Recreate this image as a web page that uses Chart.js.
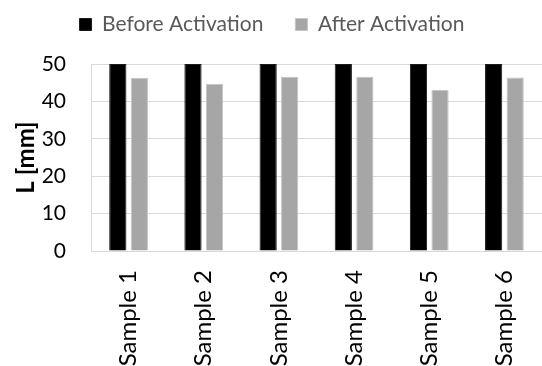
<!DOCTYPE html>
<html>
<head>
<meta charset="utf-8">
<script src="https://cdn.jsdelivr.net/npm/chart.js@4.4.1/dist/chart.umd.min.js"></script>
<style>
html,body{margin:0;padding:0;background:#fff;}
#wrap{width:542px;height:366px;position:relative;overflow:hidden;}
</style>
</head>
<body>
<div id="wrap"><canvas id="c" width="542" height="366"></canvas></div>
<script>
const categories = ["Sample 1","Sample 2","Sample 3","Sample 4","Sample 5","Sample 6"];
const seriesNames = ["Before Activation","After Activation"];
const beforeValues = [50, 50, 50, 50, 50, 50];
const afterValues = [46.3, 44.7, 46.6, 46.6, 43.1, 46.4];
const yTicks = [0, 10, 20, 30, 40, 50];

const FONT = "Lato, 'Open Sans', sans-serif";
const LEGEND_TOP = -18;
const PLOT_TOP = 64;

const legendFix = {
  id: 'legendFix',
  beforeLayout(chart) {
    const lg = chart.legend;
    if (lg && !lg._patched) {
      const origFit = lg.fit;
      lg.fit = function () { origFit.call(this); this.height = PLOT_TOP - LEGEND_TOP; };
      lg._patched = true;
    }
  }
};

new Chart(document.getElementById('c'), {
  type: 'bar',
  data: {
    labels: categories,
    datasets: [
      { label: seriesNames[0], data: beforeValues, backgroundColor: '#000000', borderColor: '#1a1a1a', borderWidth: 1 },
      { label: seriesNames[1], data: afterValues, backgroundColor: '#a6a6a6', borderColor: '#c4c4c4', borderWidth: 1 }
    ]
  },
  options: {
    responsive: false,
    animation: false,
    events: [],
    devicePixelRatio: 1,
    layout: { padding: { top: LEGEND_TOP, right: -2, left: 0, bottom: 0 } },
    datasets: { bar: { categoryPercentage: 0.573, barPercentage: 0.8 } },
    plugins: {
      tooltip: { enabled: false },
      legend: {
        position: 'top',
        align: 'center',
        labels: {
          boxWidth: 12, boxHeight: 12, padding: 32,
          color: '#595959',
          font: { family: FONT, size: 21 }
        }
      }
    },
    scales: {
      x: {
        grid: { display: false, drawTicks: false },
        border: { display: true, color: '#d9d9d9', width: 1 },
        ticks: {
          color: '#000000',
          font: { family: FONT, size: 24 },
          minRotation: 90, maxRotation: 90,
          padding: 19,
          autoSkip: false
        },
        afterFit(scale) { scale.height = 115; scale.paddingLeft = 0; scale.paddingRight = 0; }
      },
      y: {
        min: 0, max: 50,
        afterBuildTicks(scale) { scale.ticks = yTicks.map(v => ({ value: v })); },
        grid: { color: '#d9d9d9', lineWidth: 1, drawTicks: false },
        border: { display: true, color: '#d9d9d9', width: 1 },
        ticks: {
          color: '#000000',
          font: { family: FONT, size: 21 },
          padding: 25
        },
        title: {
          display: true,
          text: 'L [mm]',
          color: '#000000',
          font: { family: FONT, size: 24, weight: 'bold' },
          padding: { top: 12, bottom: 0 }
        },
        afterFit(scale) { scale.width = 91; }
      }
    }
  },
  plugins: [legendFix]
});
</script>
</body>
</html>
